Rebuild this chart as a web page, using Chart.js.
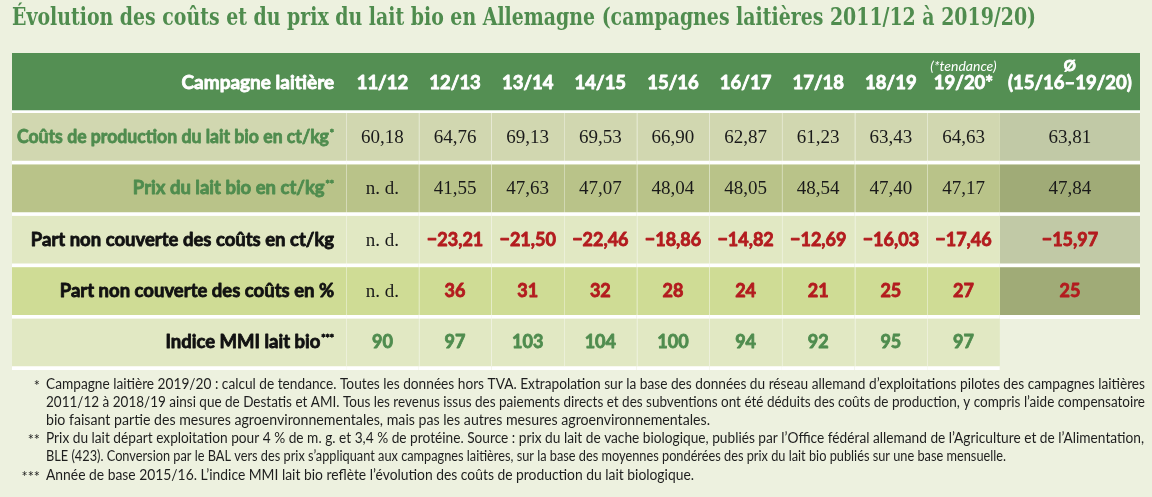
<!DOCTYPE html>
<html lang="fr">
<head>
<meta charset="utf-8">
<title>Évolution des coûts et du prix du lait bio en Allemagne</title>
<script src="https://cdn.jsdelivr.net/npm/chart.js@4.4.1/dist/chart.umd.min.js"></script>
<style>
  html, body { margin: 0; padding: 0; background: #edf1df; }
  #wrap { width: 1152px; height: 497px; }
</style>
</head>
<body>
<div id="wrap"><canvas id="table" width="1152" height="497"></canvas></div>
<script>
// --- data -------------------------------------------------------------
const title = 'Évolution des coûts et du prix du lait bio en Allemagne (campagnes laitières 2011/12 à 2019/20)';
const headerLabel = 'Campagne laitière';
const campaigns = ['11/12', '12/13', '13/14', '14/15', '15/16', '16/17', '17/18', '18/19', '19/20*'];
const trendNote = '(*tendance)';
const avgHeader = ['Ø', '(15/16–19/20)'];

const rowLabels = [
  'Coûts de production du lait bio en ct/kg',
  'Prix du lait bio en ct/kg',
  'Part non couverte des coûts en ct/kg',
  'Part non couverte des coûts en %',
  'Indice MMI lait bio'
];
const rowMarks = ['*', '**', '', '', '***'];

const productionCost = [60.18, 64.76, 69.13, 69.53, 66.90, 62.87, 61.23, 63.43, 64.63];
const milkPrice = [null, 41.55, 47.63, 47.07, 48.04, 48.05, 48.54, 47.40, 47.17];
const uncoveredCt = [null, -23.21, -21.50, -22.46, -18.86, -14.82, -12.69, -16.03, -17.46];
const uncoveredPct = [null, 36, 31, 32, 28, 24, 21, 25, 27];
const mmiIndex = [90, 97, 103, 104, 100, 94, 92, 95, 97];
const averages = [63.81, 47.84, -15.97, 25, null];

const footMarks = ['*', '', '', '**', '', '***'];
const footLines = [
  'Campagne laitière 2019/20 : calcul de tendance. Toutes les données hors TVA. Extrapolation sur la base des données du réseau allemand d’exploitations pilotes des campagnes laitières',
  '2011/12 à 2018/19 ainsi que de Destatis et AMI. Tous les revenus issus des paiements directs et des subventions ont été déduits des coûts de production, y compris l’aide compensatoire',
  'bio faisant partie des mesures agroenvironnementales, mais pas les autres mesures agroenvironnementales.',
  'Prix du lait départ exploitation pour 4 % de m. g. et 3,4 % de protéine. Source : prix du lait de vache biologique, publiés par l’Office fédéral allemand de l’Agriculture et de l’Alimentation,',
  'BLE (423). Conversion par le BAL vers des prix s’appliquant aux campagnes laitières, sur la base des moyennes pondérées des prix du lait bio publiés sur une base mensuelle.',
  'Année de base 2015/16. L’indice MMI lait bio reflète l’évolution des coûts de production du lait biologique.'
];

// --- layout / style ---------------------------------------------------
const colUnits = [4.6, 1, 1, 1, 1, 1, 1, 1, 1, 1, 1.93]; // label, 9 campaigns, average
const colEdges = colUnits.reduce((acc, u) => { acc.push(acc[acc.length - 1] + u); return acc; }, [0]);
const totalUnits = colEdges[colEdges.length - 1];
const footWidths = [1099, 1099, 664, 1098, 960, 648]; // set width of each footnote line

const pageBg = '#edf1df';
const green = '#4f8c4e';
const red = '#b31b1e';
const headFill = '#548f53';
const rowFill = ['#d1d7b0', '#b9c389', '#e1e8c3', '#cfdc95', '#e1e8c3'];
const avgFill = ['#c1c9a6', '#a0ab77', '#c1c9a6', '#a0ab77', '#e1e8c3'];

const sans = 'Lato, "Noto Sans", sans-serif';
const serif = '"Liberation Serif", "DejaVu Serif", serif';

const rowValues = [productionCost, milkPrice, uncoveredCt, uncoveredPct, mmiIndex];

function fmtDec(v) {
  const s = Math.abs(v).toFixed(2).replace('.', ',');
  return v < 0 ? '\u2212' + s : s;
}

// header: one bar over the full width; body: one dataset per column, each bar a cell
const datasets = [{
  label: headerLabel,
  yAxisID: 'yHead',
  data: [[0, totalUnits]],
  backgroundColor: headFill,
  borderColor: '#ffffff',
  borderWidth: { top: 0, right: 0, bottom: 3, left: 0 },
  borderSkipped: false,
  grouped: false,
  barPercentage: 1,
  categoryPercentage: 1
}].concat(colUnits.map((u, c) => ({
  label: c === 0 ? 'libellé' : (c <= 9 ? campaigns[c - 1] : 'Ø'),
  yAxisID: 'yBody',
  data: rowLabels.map((_, r) => (c === 10 && r === 4) ? null : [colEdges[c], colEdges[c + 1]]),
  backgroundColor: c === 10 ? avgFill : rowFill,
  borderColor: '#ffffff',
  borderWidth: { top: 0, right: 0, bottom: 4, left: 0 },
  borderSkipped: false,
  grouped: false,
  barPercentage: 1,
  categoryPercentage: 1
})));

function squeeze(ctx, text, x, y, scale) {
  ctx.save();
  ctx.translate(x, y);
  ctx.scale(scale, 1);
  ctx.fillText(text, 0, 0);
  ctx.restore();
}

// heavier look than the installed bold weight
function heavy(ctx, text, x, y, maxW) {
  ctx.save();
  ctx.strokeStyle = ctx.fillStyle;
  ctx.lineWidth = 0.8;
  ctx.lineJoin = 'round';
  if (maxW) { ctx.strokeText(text, x, y, maxW); ctx.fillText(text, x, y, maxW); }
  else { ctx.strokeText(text, x, y); ctx.fillText(text, x, y); }
  ctx.restore();
}

const tableText = {
  id: 'tableText',
  beforeDraw(chart) {
    const ctx = chart.ctx;
    ctx.save();
    ctx.fillStyle = pageBg;
    ctx.fillRect(0, 0, chart.width, chart.height);
    ctx.restore();
  },
  afterDatasetsDraw(chart) {
    const { ctx, chartArea, scales: { x, yHead, yBody } } = chart;
    const colX = c => x.getPixelForValue((colEdges[c] + colEdges[c + 1]) / 2);
    const rowY = r => yBody.getPixelForValue(r) - 2;
    const labelRight = x.getPixelForValue(colEdges[1]) - 12;

    ctx.save();

    // faint column rules inside the body
    ctx.strokeStyle = 'rgba(255,255,255,0.35)';
    ctx.lineWidth = 1;
    const top = yBody.top, bottom = yBody.bottom - 4;
    for (let c = 1; c <= 9; c++) {
      const px = Math.round(x.getPixelForValue(colEdges[c])) + 0.5;
      ctx.beginPath(); ctx.moveTo(px, top); ctx.lineTo(px, bottom); ctx.stroke();
    }

    // title
    ctx.fillStyle = green;
    ctx.textAlign = 'left';
    ctx.textBaseline = 'alphabetic';
    ctx.font = 'bold 23.5px "DejaVu Serif Condensed", "DejaVu Serif", serif';
    const tw = ctx.measureText(title).width;
    squeeze(ctx, title, chartArea.left, 25, Math.min(1, 1024 / tw));

    // header row
    const hy = yHead.getPixelForValue(0) - 1.5;
    ctx.fillStyle = '#ffffff';
    ctx.font = 'bold 19px ' + sans;
    ctx.textAlign = 'right';
    heavy(ctx, headerLabel, labelRight, hy + 7);
    ctx.textAlign = 'center';
    ctx.font = 'bold 18.5px ' + sans;
    campaigns.forEach((t, i) => heavy(ctx, t, colX(i + 1), hy + 7));
    heavy(ctx, avgHeader[1], colX(10), hy + 7);
    ctx.font = 'bold 15px ' + sans;
    heavy(ctx, avgHeader[0], colX(10), hy - 11);
    ctx.font = 'italic 14px ' + sans;
    ctx.fillText(trendNote, colX(9), hy - 11);

    // row labels
    rowLabels.forEach((t, i) => {
      const cy = rowY(i);
      ctx.fillStyle = i < 2 ? green : '#111111';
      let right = labelRight;
      if (rowMarks[i]) {
        ctx.font = 'bold 10px ' + sans;
        ctx.textAlign = 'right';
        heavy(ctx, rowMarks[i], right, cy - 1);
        right -= ctx.measureText(rowMarks[i]).width + 1;
      }
      ctx.font = 'bold 18.5px ' + sans;
      ctx.textAlign = 'right';
      heavy(ctx, t, right, cy + 6, right - chartArea.left - 5);
    });

    // values
    ctx.textAlign = 'center';
    const cell = (v, r, cx) => {
      const cy = rowY(r);
      if (v === null) {
        ctx.font = '19px ' + serif;
        ctx.fillStyle = '#1a1a1a';
        ctx.fillText('n. d.', cx, cy + 6);
        return;
      }
      if (r < 2) {
        ctx.font = '19px ' + serif;
        ctx.fillStyle = '#1a1a1a';
        ctx.fillText(fmtDec(v), cx, cy + 6);
        return;
      }
      ctx.font = 'bold 18px ' + sans;
      ctx.fillStyle = r === 4 ? green : red;
      heavy(ctx, r === 2 ? fmtDec(v) : String(v), cx, cy + 6);
    };
    rowValues.forEach((vals, r) => vals.forEach((v, i) => cell(v, r, colX(i + 1))));
    averages.forEach((v, r) => { if (v !== null) cell(v, r, colX(10)); });

    // footnotes
    ctx.fillStyle = '#1e1e1e';
    ctx.font = '14.5px ' + sans;
    const markRight = chartArea.left + 28, textLeft = chartArea.left + 34;
    footLines.forEach((t, i) => {
      const by = chartArea.bottom + 18.5 + i * 18.2;
      ctx.textAlign = 'right';
      ctx.fillText(footMarks[i], markRight, by + 2);
      ctx.textAlign = 'left';
      squeeze(ctx, t, textLeft, by, footWidths[i] / ctx.measureText(t).width);
    });

    ctx.restore();
  }
};

new Chart(document.getElementById('table'), {
  type: 'bar',
  data: { labels: rowLabels, datasets },
  options: {
    indexAxis: 'y',
    responsive: false,
    maintainAspectRatio: false,
    animation: false,
    layout: { padding: { top: 53, left: 12, right: 12, bottom: 127 } },
    scales: {
      x: { type: 'linear', min: 0, max: totalUnits, display: false },
      yBody: { type: 'category', labels: rowLabels, position: 'left', stack: 'table', stackWeight: 257, display: false, offset: true },
      yHead: { type: 'category', labels: [headerLabel], position: 'left', stack: 'table', stackWeight: 60, display: false, offset: true }
    },
    plugins: {
      legend: { display: false },
      tooltip: { enabled: false },
      title: { display: false }
    }
  },
  plugins: [tableText]
});
</script>
</body>
</html>
